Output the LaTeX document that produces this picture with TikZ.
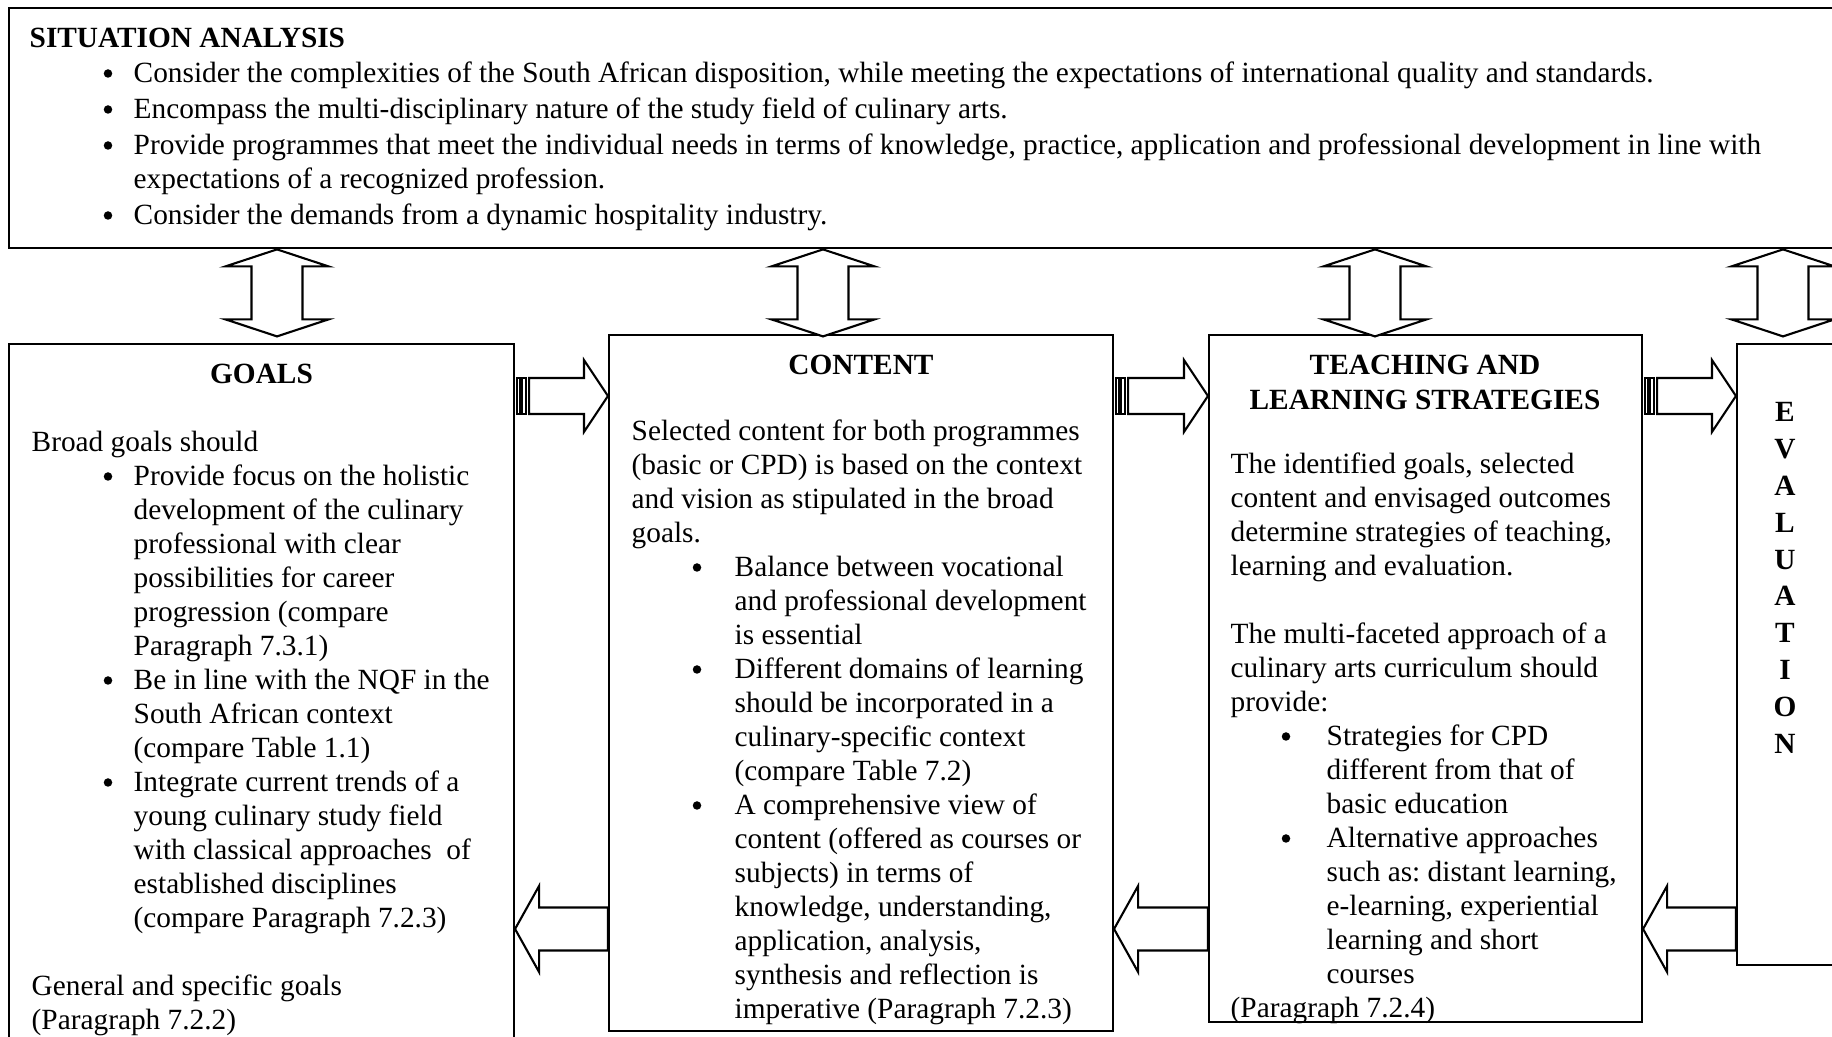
\documentclass[tikz,border=0pt]{standalone}
\usepackage{fontspec}
\setmainfont{Liberation Serif}
\usetikzlibrary{calc,fit}
\frenchspacing

\tikzset{
  box/.style={draw, line width=0.6pt, inner sep=0pt},
  blk/.style={draw, fill=white, line width=0.6pt, line join=miter},
  ln/.style={anchor=base west, inner sep=0pt,
             font=\fontsize{8.34}{9.7}\selectfont},
  dot/.style={circle, fill, inner sep=0pt, minimum size=0.085cm},
  hd/.style={anchor=base, inner sep=0pt,
             font=\fontsize{8.34}{9.7}\selectfont\bfseries},
}

% striped block arrow from the east side of #1 to the west side of #2, on row #3
\newcommand\stripedarrow[3]{%
  \coordinate (sa) at (#1.east |- #3);
  \coordinate (sb) at (#2.west |- #3);
  \draw[blk] ($(sa)+(2,-18)$) rectangle ($(sa)+(4.5,18)$);
  \draw[blk] ($(sa)+(7,-18)$) rectangle ($(sa)+(11,18)$);
  \draw[blk] ($(sa)+(14,-18)$) -- ($(sb)+(-24,-18)$) -- ($(sb)+(-24,-36)$)
    -- (sb) -- ($(sb)+(-24,36)$) -- ($(sb)+(-24,18)$) -- ($(sa)+(14,18)$)
    -- cycle;
}
% plain block arrow from the west side of #1 back to the east side of #2
\newcommand\backarrow[3]{%
  \coordinate (ba) at (#1.west |- #3);
  \coordinate (bb) at (#2.east |- #3);
  \draw[blk] ($(ba)+(0,-21.5)$) -- ($(bb)+(24,-21.5)$) -- ($(bb)+(24,-43)$)
    -- (bb) -- ($(bb)+(24,43)$) -- ($(bb)+(24,21.5)$) -- ($(ba)+(0,21.5)$)
    -- cycle;
}
% up-down block arrow hanging under #1 on axis #2
\newcommand\updown[2]{%
  \coordinate (ua) at (#1.south -| #2);
  \draw[blk] (ua) -- ++(51.5,17) -- ++(-26,0) -- ++(0,53) -- ++(26,0)
    -- ++(-51.5,17) -- ++(-51.5,-17) -- ++(26,0) -- ++(0,-53) -- ++(-26,0)
    -- cycle;
}

\begin{document}
\begin{tikzpicture}[x=0.01cm, y=-0.01cm]

\useasboundingbox (0,0) rectangle (1832,1037);
\clip (0,0) rectangle (1832,1037);
\fill[white] (0,0) rectangle (1832,1037);

% ---- boxes
\node[box, line width=0.8pt, fit={(9,8) (1860,248)}] (sit) {};
\node[box, fit={(9,344) (514,1070)}]   (goals)   {};
\node[box, fit={(609,335) (1113,1031)}] (content) {};
\node[box, fit={(1209,335) (1642,1022)}] (teach)  {};
\node[box, fit={(1737,344) (1860,965)}] (eval)    {};

% ---- arrows
\coordinate (rowa) at (0,396);
\coordinate (rowb) at (0,929);
\foreach \ax in {277,823,1375,1783}{
  \coordinate (axis) at (\ax,0);
  \updown{sit}{axis}
}
\stripedarrow{goals}{content}{rowa}
\stripedarrow{content}{teach}{rowa}
\stripedarrow{teach}{eval}{rowa}
\backarrow{content}{goals}{rowb}
\backarrow{teach}{content}{rowb}
\backarrow{eval}{teach}{rowb}

% ---- situation analysis
\node[hd, anchor=base west] (sittitle) at (29,48) {SITUATION ANALYSIS};
\foreach \k/\yy/\kind/\txt in {%
  0/83/1/{Consider the complexities of the South African disposition, while meeting the expectations of international quality and standards.},
  1/119/1/{Encompass the multi-disciplinary nature of the study field of culinary arts.},
  2/155/1/{Provide programmes that meet the individual needs in terms of knowledge, practice, application and professional development in line with},
  3/189/2/{expectations of a recognized profession.},
  4/225/1/{Consider the demands from a dynamic hospitality industry.}%
}{
  \ifnum\kind=1 \node[dot] (sb\k) at (108,\yy-9.5) {}; \fi
  \node[ln] (s\k) at (133,\yy) {\txt};
}

% ---- goals (kind: 0 flush left, 1 bullet, 2 bullet continuation)
\node[hd] (goalstitle) at (261.5,384) {GOALS};
\foreach \k/\kind/\txt in {%
  0/0/{Broad goals should},
  1/1/{Provide focus on the holistic},
  2/2/{development of the culinary},
  3/2/{professional with clear},
  4/2/{possibilities for career},
  5/2/{progression (compare},
  6/2/{Paragraph 7.3.1)},
  7/1/{Be in line with the NQF in the},
  8/2/{South African context},
  9/2/{(compare Table 1.1)},
  10/1/{Integrate current trends of a},
  11/2/{young culinary study field},
  12/2/{with classical approaches~ of},
  13/2/{established disciplines},
  14/2/{(compare Paragraph 7.2.3)},
  16/0/{General and specific goals},
  17/0/{(Paragraph 7.2.2)}%
}{
  \pgfmathsetmacro{\yy}{452+\k*34.0}
  \ifnum\kind=1 \node[dot] (gb\k) at (108,\yy-9.5) {}; \fi
  \ifnum\kind=0
    \node[ln] (g\k) at (31,\yy) {\txt};
  \else
    \node[ln] (g\k) at (133,\yy) {\txt};
  \fi
}

% ---- content
\node[hd] (contenttitle) at (861,375) {CONTENT};
\foreach \k/\kind/\txt in {%
  0/0/{Selected content for both programmes},
  1/0/{(basic or CPD) is based on the context},
  2/0/{and vision as stipulated in the broad},
  3/0/{goals.},
  4/1/{Balance between vocational},
  5/2/{and professional development},
  6/2/{is essential},
  7/1/{Different domains of learning},
  8/2/{should be incorporated in a},
  9/2/{culinary-specific context},
  10/2/{(compare Table 7.2)},
  11/1/{A comprehensive view of},
  12/2/{content (offered as courses or},
  13/2/{subjects) in terms of},
  14/2/{knowledge, understanding,},
  15/2/{application, analysis,},
  16/2/{synthesis and reflection is},
  17/2/{imperative (Paragraph 7.2.3)}%
}{
  \pgfmathsetmacro{\yy}{441+\k*34.0}
  \ifnum\kind=1 \node[dot] (cb\k) at (697,\yy-9.5) {}; \fi
  \ifnum\kind=0
    \node[ln] (c\k) at (631,\yy) {\txt};
  \else
    \node[ln] (c\k) at (734,\yy) {\txt};
  \fi
}

% ---- teaching and learning strategies
\node[hd] (teachtitle) at (1425,375) {TEACHING AND};
\node[hd] (teachtitleb) at (1425,410) {LEARNING STRATEGIES};
\foreach \k/\kind/\txt in {%
  0/0/{The identified goals, selected},
  1/0/{content and envisaged outcomes},
  2/0/{determine strategies of teaching,},
  3/0/{learning and evaluation.},
  5/0/{The multi-faceted approach of a},
  6/0/{culinary arts curriculum should},
  7/0/{provide:},
  8/1/{Strategies for CPD},
  9/2/{different from that of},
  10/2/{basic education},
  11/1/{Alternative approaches},
  12/2/{such as: distant learning,},
  13/2/{e-learning, experiential},
  14/2/{learning and short},
  15/2/{courses},
  16/0/{(Paragraph 7.2.4)}%
}{
  \pgfmathsetmacro{\yy}{474+\k*34.0}
  \ifnum\kind=1 \node[dot] (tb\k) at (1286,\yy-9.5) {}; \fi
  \ifnum\kind=0
    \node[ln] (t\k) at (1230,\yy) {\txt};
  \else
    \node[ln] (t\k) at (1326,\yy) {\txt};
  \fi
}

% ---- evaluation, one letter per row
\foreach \k/\ch in {0/E,1/V,2/A,3/L,4/U,5/A,6/T,7/I,8/O,9/N}{
  \pgfmathsetmacro{\yy}{422+\k*36.8}
  \node[hd] (e\k) at (1785,\yy) {\ch};
}

\end{tikzpicture}
\end{document}
